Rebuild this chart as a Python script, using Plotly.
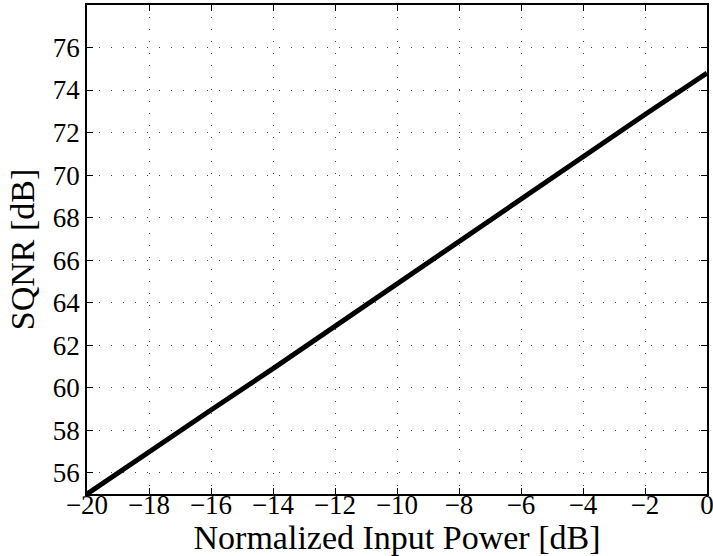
import plotly.graph_objects as go

# Data
input_power_db = [-20, -18, -16, -14, -12, -10, -8, -6, -4, -2, 0]
sqnr_db = [55.0, 57.0, 58.95, 60.9, 62.9, 64.9, 66.9, 68.85, 70.85, 72.85, 74.8]

x_ticks = [-20, -18, -16, -14, -12, -10, -8, -6, -4, -2, 0]
x_tick_labels = ["\u221220", "\u221218", "\u221216", "\u221214", "\u221212", "\u221210",
                 "\u22128", "\u22126", "\u22124", "\u22122", "0"]
y_ticks = [56, 58, 60, 62, 64, 66, 68, 70, 72, 74, 76]
y_tick_labels = [str(v) for v in y_ticks]

font_family = "Liberation Serif, DejaVu Serif, serif"
x_range = [-20, 0]
y_range = [55, 78]

fig = go.Figure()
# invisible carrier so the label axis (x2) is drawn
fig.add_trace(go.Scatter(
    x=input_power_db, y=sqnr_db, mode="lines", xaxis="x2", yaxis="y",
    line=dict(color="rgba(0,0,0,0)", width=0), hoverinfo="skip",
    showlegend=False,
))
fig.add_trace(go.Scatter(
    x=input_power_db, y=sqnr_db, mode="lines",
    line=dict(color="black", width=5),
    showlegend=False,
))

axis_common = dict(
    showline=True, linecolor="black", linewidth=1.5, mirror="ticks",
    ticks="inside", ticklen=6, tickwidth=1.2, tickcolor="black",
    showgrid=True, gridcolor="#444444", griddash="1px,11px", gridwidth=1,
    zeroline=False, automargin=False,
    tickfont=dict(family=font_family, size=27, color="black"),
)

# main x axis: frame, ticks and grid
fig.update_xaxes(
    range=x_range, tickvals=x_ticks, ticktext=x_tick_labels,
    showticklabels=False,
    **axis_common,
)
fig.update_yaxes(
    range=y_range, tickvals=y_ticks, ticktext=y_tick_labels,
    title=dict(text="SQNR [dB]", font=dict(family=font_family, size=34, color="black"), standoff=8),
    ticklabelstandoff=0,
    **axis_common,
)

fig.update_layout(
    width=713, height=556,
    margin=dict(l=87, r=6, t=5, b=62),
    paper_bgcolor="white", plot_bgcolor="white",
    # overlay axis carrying the x tick labels, nudged up toward the frame
    xaxis2=dict(
        overlaying="x", anchor="free", position=0.016, side="bottom",
        range=x_range, tickvals=x_ticks, ticktext=x_tick_labels,
        showline=False, showgrid=False, zeroline=False, ticks="",
        automargin=False, ticklabeloverflow="allow",
        tickfont=dict(family=font_family, size=27, color="black"),
        title=dict(text="Normalized Input Power [dB]",
                   font=dict(family=font_family, size=34, color="black"), standoff=0),
    ),
)

fig.write_html("out.html", post_script="document.body.style.margin='0';",
               config={"displayModeBar": False})
